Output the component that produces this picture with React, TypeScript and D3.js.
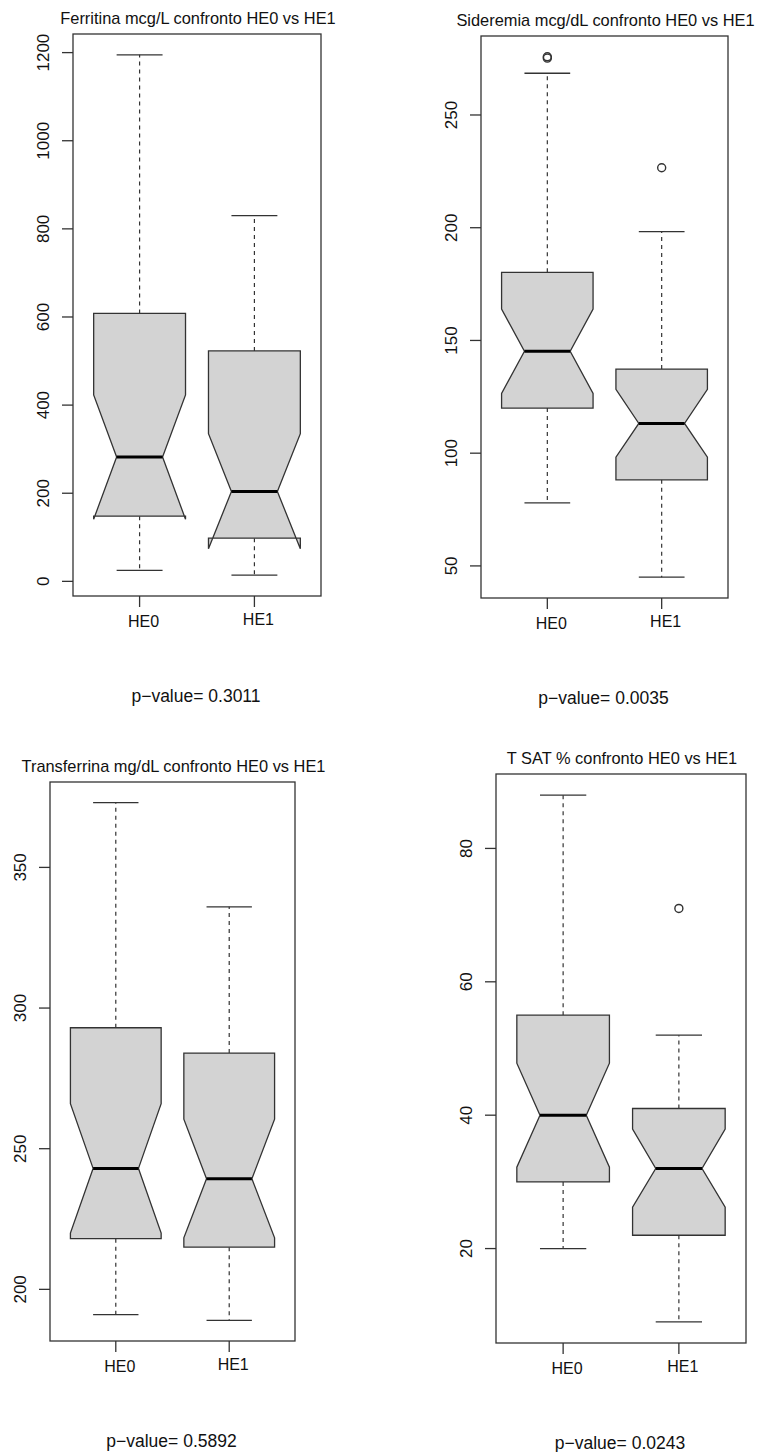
import React from "react";
import * as d3 from "d3";

const groups = ["HE0", "HE1"];

const titles = [
  "Ferritina mcg/L confronto HE0 vs HE1",
  "Sideremia mcg/dL confronto HE0 vs HE1",
  "Transferrina mg/dL confronto HE0 vs HE1",
  "T SAT % confronto HE0 vs HE1",
];

const pValues = ["0.3011", "0.0035", "0.5892", "0.0243"];

// per group: [lower whisker, Q1, median, Q3, upper whisker]
const ferritinaStats = [
  [25, 148, 282, 608, 1195],
  [14, 98, 204, 523, 830],
];
const ferritinaNotch = [
  [141, 423],
  [74, 335],
];
const ferritinaOut = [[], []];
const ferritinaTicks = [0, 200, 400, 600, 800, 1000, 1200];

const sideremiaStats = [
  [78, 120, 145.2, 180.2, 268.5],
  [45, 88.2, 113.2, 137.3, 198.3],
];
const sideremiaNotch = [
  [126.5, 163.9],
  [98.2, 128.3],
];
const sideremiaOut = [[275.2, 275.8], [226.6]];
const sideremiaTicks = [50, 100, 150, 200, 250];

const transferrinaStats = [
  [191, 218, 243, 293, 373],
  [189, 215, 239.3, 284, 336],
];
const transferrinaNotch = [
  [220, 266],
  [218.3, 260.5],
];
const transferrinaOut = [[], []];
const transferrinaTicks = [200, 250, 300, 350];

const tsatStats = [
  [20, 30, 40, 55, 88],
  [9, 22, 32, 41, 52],
];
const tsatNotch = [
  [32.2, 47.8],
  [26.2, 37.9],
];
const tsatOut = [[], [71]];
const tsatTicks = [20, 40, 60, 80];

const panels = [
  { stats: ferritinaStats, notch: ferritinaNotch, out: ferritinaOut, ticks: ferritinaTicks },
  { stats: sideremiaStats, notch: sideremiaNotch, out: sideremiaOut, ticks: sideremiaTicks },
  { stats: transferrinaStats, notch: transferrinaNotch, out: transferrinaOut, ticks: transferrinaTicks },
  { stats: tsatStats, notch: tsatNotch, out: tsatOut, ticks: tsatTicks },
];

// plot frames (left, top, right, bottom) in page pixels
const frames = [
  [73, 34, 321, 596],
  [481, 36, 728, 598],
  [50, 782, 295, 1341],
  [496, 774, 746, 1343],
];

const FONT = "'Liberation Sans', Arial, Helvetica, sans-serif";
const INK = "#333";

function Panel({ idx }: { idx: number }) {
  const { stats, notch, out, ticks } = panels[idx];
  const [left, top, right, bottom] = frames[idx];

  // R-style: range of stats, outliers and notches, padded by 4%
  const all = [...stats.flat(), ...notch.flat(), ...out.flat()];
  const [lo, hi] = d3.extent(all) as [number, number];
  const pad = (hi - lo) * 0.04;
  const y = d3.scaleLinear().domain([lo - pad, hi + pad]).range([bottom, top]);
  const x = d3.scaleLinear().domain([0.42, 2.58]).range([left, right]);

  const hw = x(1.4) - x(1);
  const cx = (left + right) / 2;

  const line = d3.line();

  return (
    <g>
      <text x={cx + 1} y={top - 10.5} textAnchor="middle" fontSize={16.4} fontFamily={FONT} fill="#111">
        {titles[idx]}
      </text>

      {groups.map((g, i) => {
        const [wLo, q1, med, q3, wHi] = stats[i];
        const [nLo, nHi] = notch[i];
        const c = x(i + 1);
        const poly: [number, number][] = [
          [c - hw, y(q1)],
          [c - hw, y(nLo)],
          [c - hw / 2, y(med)],
          [c - hw, y(nHi)],
          [c - hw, y(q3)],
          [c + hw, y(q3)],
          [c + hw, y(nHi)],
          [c + hw / 2, y(med)],
          [c + hw, y(nLo)],
          [c + hw, y(q1)],
        ];
        return (
          <g key={g}>
            <line x1={c} x2={c} y1={y(q3)} y2={y(wHi)} stroke={INK} strokeWidth={1.2} strokeDasharray="4,4" />
            <line x1={c} x2={c} y1={y(q1)} y2={y(wLo)} stroke={INK} strokeWidth={1.2} strokeDasharray="4,4" />
            <line x1={c - hw / 2} x2={c + hw / 2} y1={y(wHi)} y2={y(wHi)} stroke={INK} strokeWidth={1.3} />
            <line x1={c - hw / 2} x2={c + hw / 2} y1={y(wLo)} y2={y(wLo)} stroke={INK} strokeWidth={1.3} />
            <path d={line(poly) + "Z"} fill="#d3d3d3" stroke={INK} strokeWidth={1.3} strokeLinejoin="miter" />
            <line x1={c - hw / 2} x2={c + hw / 2} y1={y(med)} y2={y(med)} stroke="#000" strokeWidth={3} />
            {out[i].map((v, k) => (
              <circle key={k} cx={c} cy={y(v)} r={4} fill="none" stroke={INK} strokeWidth={1.4} />
            ))}
            <line x1={c} x2={c} y1={bottom} y2={bottom + 11} stroke={INK} strokeWidth={1.3} />
            <text
              x={c + 4}
              y={bottom + (i === 0 ? 31 : 29)}
              textAnchor="middle"
              fontSize={16}
              fontFamily={FONT}
              fill="#111"
            >
              {g}
            </text>
          </g>
        );
      })}

      {ticks.map((t) => (
        <g key={t}>
          <line x1={left - 11} x2={left} y1={y(t)} y2={y(t)} stroke={INK} strokeWidth={1.3} />
          <text
            transform={`translate(${left - 24.5},${y(t)}) rotate(-90)`}
            textAnchor="middle"
            fontSize={17}
            fontFamily={FONT}
            fill="#111"
          >
            {t}
          </text>
        </g>
      ))}

      <rect x={left} y={top} width={right - left} height={bottom - top} fill="none" stroke={INK} strokeWidth={1.3} />

      <text x={cx - 1} y={bottom + 106} textAnchor="middle" fontSize={17.5} fontFamily={FONT} fill="#111">
        {"p\u2212value= " + pValues[idx]}
      </text>
    </g>
  );
}

export default function App() {
  return (
    <svg
      width={758}
      height={1452}
      style={{ position: "absolute", left: 0, top: 0, background: "#fff" }}
    >
      <rect width={758} height={1452} fill="#fff" />
      {panels.map((_, i) => (
        <Panel key={i} idx={i} />
      ))}
    </svg>
  );
}
